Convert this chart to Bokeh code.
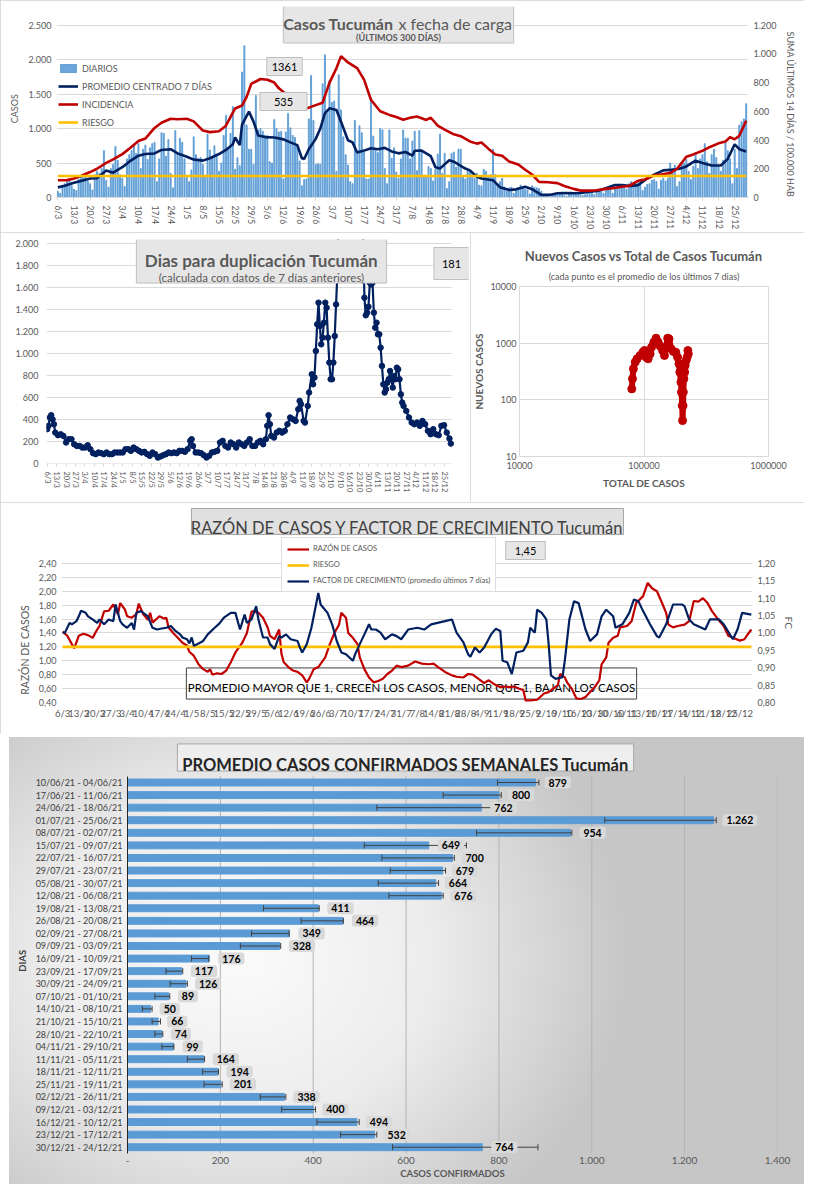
import math
from bokeh.plotting import figure
from bokeh.models import (Range1d, LinearAxis, Label, Legend, LegendItem, FixedTicker,
                          InlineStyleSheet, Title)
from bokeh.layouts import column, row
from bokeh.embed import file_html
from bokeh.resources import INLINE

# ---------------- DATA ----------------
date_lbl = ["6/3", "13/3", "20/3", "27/3", "3/4", "10/4", "17/4", "24/4", "1/5", "8/5", "15/5",
            "22/5", "29/5", "5/6", "12/6", "19/6", "26/6", "3/7", "10/7", "17/7", "24/7", "31/7",
            "7/8", "14/8", "21/8", "28/8", "4/9", "11/9", "18/9", "25/9", "2/10", "9/10", "16/10",
            "23/10", "30/10", "6/11", "13/11", "20/11", "27/11", "4/12", "11/12", "18/12", "25/12"]

# daily cases (6/3 .. 30/12)
daily = [90, 60, 180, 200, 230, 250, 170,
         120, 100, 270, 300, 320, 330, 240,
         200, 110, 330, 380, 350, 420, 680,
         250, 150, 420, 480, 740, 540, 330,
         280, 160, 560, 620, 680, 760, 640,
         780, 420, 700, 760, 550, 720, 780,
         800, 230, 560, 940, 930, 600, 840,
         350, 140, 970, 640, 860, 800, 560,
         300, 230, 400, 880, 620, 560, 580,
         480, 300, 920, 690, 580, 750, 610,
         380, 500, 900, 1190, 720, 930, 1320,
         410, 580, 460, 1820, 2200, 1050, 700,
         700, 480, 1480, 980, 1000, 960, 900,
         900, 520, 500, 1130, 1000, 950, 960,
         270, 950, 1220, 1010, 900, 870, 770,
         530, 170, 260, 270, 1140, 1770, 1120,
         480, 490, 480, 1650, 2070, 1220, 1700,
         1380, 1400, 380, 1780, 1270, 880, 620,
         470, 230, 200, 1120, 640, 1040, 940,
         660, 270, 270, 1450, 890, 700, 650,
         1000, 980, 420, 200, 980, 570, 720,
         370, 280, 560, 980, 860, 860, 560,
         820, 960, 390, 970, 690, 300, 310,
         450, 420, 240, 410, 630, 920, 350,
         640, 130, 230, 640, 660, 440, 700,
         700, 320, 270, 400, 380, 350, 280,
         350, 180, 170, 410, 380, 300, 330,
         700, 330, 200, 230, 280, 150, 90,
         140, 150, 60, 110, 130, 180, 150,
         120, 110, 50, 170, 150, 140, 130,
         90, 40, 30, 20, 50, 50, 40,
         70, 60, 80, 30, 20, 60, 80,
         60, 50, 70, 60, 30, 40, 80,
         80, 90, 40, 100, 120, 110, 60,
         140, 120, 150, 60, 130, 140, 170,
         150, 190, 120, 200, 230, 210, 200,
         210, 240, 100, 150, 190, 200, 250,
         260, 230, 120, 250, 280, 240, 280,
         500, 420, 470, 160, 230, 480, 500,
         550, 380, 260, 450, 650, 420, 560,
         620, 780, 520, 350, 620, 700, 580,
         460, 380, 540, 800, 680, 560, 200,
         700, 420, 1050, 1100, 1140, 1361]

avg7_day = [0, 3, 7, 10, 14, 17, 21, 24, 28, 31, 35, 38, 42, 45, 49, 52, 56, 59, 63, 66, 70, 73, 76,
            77, 79, 80, 83, 85, 87, 90, 94, 98, 101, 104, 106, 107, 109, 112, 114, 116, 118, 121,
            123, 126, 128, 130, 133, 136, 139, 142, 145, 148, 151, 154, 155, 158, 162, 164, 166,
            168, 170, 172, 175, 177, 179, 182, 184, 189, 192, 196, 199, 203, 206, 210, 214, 217,
            221, 224, 228, 231, 235, 238, 242, 245, 249, 252, 256, 259, 263, 266, 270, 273, 277,
            280, 284, 288, 291, 294, 296, 299]
avg7 = [147, 170, 213, 240, 275, 280, 393, 360, 440, 520, 606, 630, 639, 690, 700, 640, 592, 550,
        535, 570, 630, 690, 772, 870, 760, 1056, 1245, 1100, 900, 876, 870, 843, 800, 760, 570,
        559, 700, 850, 1000, 1222, 1293, 1270, 1100, 830, 800, 653, 680, 715, 700, 720, 668, 640,
        660, 606, 677, 680, 600, 440, 420, 480, 540, 520, 460, 420, 393, 300, 275, 251, 150, 109,
        118, 156, 120, 38, 40, 62, 65, 62, 70, 85, 100, 133, 180, 180, 166, 180, 275, 330, 393,
        400, 417, 450, 535, 500, 464, 464, 560, 772, 700, 668]

inc_day = [0, 4, 7, 10, 14, 17, 21, 24, 28, 31, 35, 38, 42, 45, 49, 52, 56, 59, 63, 66, 70, 73, 77,
           80, 82, 84, 88, 91, 94, 96, 98, 101, 105, 108, 112, 115, 118, 121, 123, 126, 130, 133,
           136, 140, 144, 147, 150, 153, 156, 160, 162, 165, 168, 172, 175, 179, 182, 184, 187,
           190, 193, 196, 200, 203, 206, 209, 213, 217, 220, 224, 227, 231, 234, 238, 241, 245,
           248, 252, 255, 259, 262, 266, 269, 273, 276, 280, 283, 287, 290, 292, 294, 296, 299]
inc = [120, 121, 132, 150, 177, 200, 241, 265, 302, 340, 393, 410, 484, 520, 548, 545, 548, 530,
       466, 455, 461, 500, 620, 640, 700, 791, 825, 820, 800, 760, 734, 700, 640, 620, 643, 660,
       800, 900, 984, 940, 900, 820, 680, 600, 575, 560, 541, 555, 564, 540, 555, 500, 473, 440,
       427, 390, 375, 383, 340, 300, 290, 250, 230, 193, 160, 109, 106, 100, 80, 60, 48, 48, 50,
       60, 64, 75, 80, 116, 125, 155, 160, 170, 200, 284, 300, 325, 350, 377, 390, 420, 405, 430,
       534]
riesgo_inc = 150
last_daily = "1361"
last_inc = "535"

# days to doubling
dup_day = [0, 1, 2, 3, 4, 5, 6, 8, 10, 12, 14, 16, 18, 20, 22, 24, 26, 28, 30, 32, 34, 36, 38, 40,
           42, 44, 46, 48, 50, 52, 54, 56, 58, 60, 62, 64, 66, 68, 70, 72, 74, 76, 78, 80, 82, 84,
           86, 88, 90, 92, 94, 96, 98, 100, 102, 104, 106, 107, 108, 110, 112, 114, 116, 118, 120,
           122, 124, 126, 128, 130, 132, 134, 136, 138, 140, 142, 144, 146, 148, 150, 152, 154,
           156, 158, 160, 162, 163, 164, 165, 166, 168, 170, 172, 174, 176, 178, 180, 182, 184,
           186, 187, 188, 190, 191, 193, 194, 196, 197, 198, 199, 200, 201, 202, 203, 204, 205,
           206, 207, 208, 209, 210, 211, 212, 213, 214, 215, 216, 218, 221, 225, 229, 232, 234,
           235, 236, 237, 238, 239, 240, 241, 242, 243, 244, 245, 246, 247, 248, 249, 250, 251,
           252, 253, 254, 255, 256, 257, 258, 259, 260, 261, 262, 263, 264, 266, 268, 270, 272,
           274, 276, 278, 280, 282, 284, 286, 288, 290, 292, 294, 296, 298, 299]
dup = [312, 342, 418, 439, 402, 357, 281, 257, 266, 251, 191, 221, 221, 175, 160, 160, 145, 145,
       166, 130, 94, 85, 100, 94, 85, 100, 85, 85, 100, 100, 100, 100, 130, 130, 115, 145, 130,
       115, 100, 106, 85, 70, 100, 85, 54, 64, 76, 85, 100, 94, 100, 94, 115, 115, 106, 130, 206,
       221, 160, 100, 100, 94, 76, 54, 70, 100, 106, 115, 191, 206, 160, 145, 191, 175, 145, 191,
       175, 160, 191, 221, 160, 160, 191, 206, 175, 221, 342, 439, 357, 251, 236, 281, 297, 281,
       297, 357, 418, 402, 387, 493, 569, 539, 387, 372, 523, 645, 811, 720, 781, 1023, 1265,
       1462, 1250, 1083, 1144, 1280, 1462, 1416, 1144, 917, 766, 766, 917, 1159, 1446, 1734, 2300,
       2900, 3600, 4100, 3700, 2800, 2100, 1507, 1347, 1371, 1425, 1643, 1628, 1643, 1371, 1235,
       1280, 1174, 1174, 1053, 887, 720, 645, 675, 735, 766, 841, 766, 690, 796, 766, 871, 856,
       766, 629, 554, 523, 478, 418, 372, 357, 372, 342, 387, 357, 297, 266, 312, 266, 257, 342,
       348, 281, 227, 181]
last_dup = "181"

# new cases vs total cases
sc_total = [79800, 80800, 82200, 85000, 88000, 93000, 98000, 101000, 104000, 108000, 112000,
            115000, 120000, 125000, 130000, 135000, 141000, 146000, 150000, 155000, 159000,
            165000, 172000, 180000, 186000, 191000, 194000, 198000, 200000, 203000, 204000,
            206000, 207000, 209000, 212000, 214000, 218000, 222000, 225000, 227000]
sc_new = [156, 235, 352, 462, 530, 606, 693, 742, 566, 530, 648, 850, 1040, 1225, 1040, 885, 742,
          606, 850, 1225, 1190, 795, 713, 693, 566, 432, 308, 205, 137, 79, 43, 79, 137, 235, 308,
          403, 494, 566, 742, 648]

# razón de casos / factor de crecimiento
raz_day = [0, 2, 4, 5, 7, 9, 11, 13, 15, 16, 18, 20, 22, 24, 25, 27, 28, 30, 32, 33, 35, 37, 38,
           39, 42, 44, 45, 46, 48, 50, 52, 54, 55, 57, 59, 61, 63, 64, 65, 67, 69, 71, 73, 75, 78,
           79, 80, 82, 83, 85, 87, 89, 90, 92, 94, 95, 96, 98, 100, 102, 104, 106, 107, 109, 111,
           114, 116, 118, 120, 121, 123, 124, 126, 128, 129, 131, 133, 135, 137, 139, 141, 143,
           145, 147, 150, 153, 156, 159, 161, 163, 166, 169, 171, 174, 176, 178, 181, 183, 185,
           187, 190, 192, 194, 196, 198, 200, 201, 203, 206, 209, 211, 213, 215, 216, 218, 219,
           221, 223, 225, 227, 229, 231, 233, 234, 236, 237, 239, 241, 242, 245, 247, 249, 252,
           254, 256, 258, 260, 262, 263, 265, 267, 270, 272, 274, 276, 278, 280, 282, 284, 287,
           289, 291, 294, 296, 297, 299]
raz = [1.42, 1.36, 1.24, 1.18, 1.36, 1.39, 1.37, 1.33, 1.45, 1.50, 1.71, 1.72, 1.81, 1.67, 1.83,
       1.74, 1.64, 1.62, 1.67, 1.82, 1.67, 1.59, 1.69, 1.55, 1.64, 1.61, 1.62, 1.48, 1.40, 1.33,
       1.26, 1.22, 1.13, 1.07, 0.95, 0.88, 0.84, 0.88, 0.80, 0.82, 0.81, 0.86, 0.98, 1.12, 1.26,
       1.33, 1.40, 1.71, 1.71, 1.69, 1.62, 1.48, 1.36, 1.31, 1.45, 1.10, 0.98, 0.91, 0.86, 0.84,
       0.79, 0.69, 0.74, 0.88, 0.91, 1.05, 1.24, 1.40, 1.52, 1.69, 1.62, 1.40, 1.33, 1.24, 1.05,
       0.88, 0.76, 0.69, 0.71, 0.74, 0.81, 0.86, 0.93, 0.91, 0.93, 0.99, 0.96, 0.95, 0.96, 0.91,
       0.84, 0.79, 0.77, 0.76, 0.81, 0.80, 0.73, 0.68, 0.72, 0.67, 0.62, 0.63, 0.62, 0.63, 0.60,
       0.58, 0.43, 0.43, 0.44, 0.53, 0.55, 0.60, 0.65, 0.81, 0.76, 0.69, 0.60, 0.46, 0.45, 0.48,
       0.55, 0.62, 0.72, 0.95, 1.05, 1.26, 1.33, 1.36, 1.48, 1.50, 1.57, 1.83, 1.93, 2.12, 2.04,
       2.00, 1.85, 1.69, 1.52, 1.48, 1.50, 1.52, 1.57, 1.86, 1.85, 1.90, 1.83, 1.71, 1.62, 1.50,
       1.36, 1.33, 1.29, 1.31, 1.36, 1.45]
fc_day = [0, 1, 3, 4, 6, 7, 8, 10, 11, 13, 15, 16, 18, 20, 22, 23, 25, 26, 28, 30, 31, 32, 34, 36,
          37, 39, 41, 43, 45, 47, 49, 51, 52, 54, 55, 56, 57, 59, 61, 63, 66, 68, 70, 73, 75, 77,
          79, 80, 82, 84, 85, 87, 89, 90, 92, 94, 95, 97, 99, 102, 103, 104, 106, 108, 109, 111,
          112, 115, 117, 119, 121, 123, 126, 127, 129, 131, 133, 134, 136, 138, 140, 143, 145,
          147, 150, 154, 157, 160, 166, 169, 171, 174, 176, 177, 179, 181, 183, 186, 188, 190,
          191, 193, 195, 197, 200, 202, 203, 205, 206, 208, 210, 211, 212, 214, 217, 218, 220,
          222, 224, 227, 229, 232, 234, 236, 239, 240, 243, 246, 248, 250, 252, 255, 258, 259,
          262, 265, 269, 270, 272, 274, 279, 281, 285, 287, 291, 293, 295, 299]
fc = [1.001, 1.001, 1.029, 1.025, 1.034, 1.048, 1.064, 1.058, 1.048, 1.039, 1.029, 1.039, 1.025,
      1.039, 1.034, 1.082, 1.034, 1.025, 1.015, 1.029, 1.010, 1.058, 1.063, 1.053, 1.048, 1.015,
      1.010, 1.013, 1.015, 1.020, 1.006, 0.996, 0.987, 0.982, 0.970, 0.987, 0.963, 0.970, 0.977,
      0.996, 1.015, 1.027, 1.044, 1.058, 1.058, 1.010, 1.053, 1.029, 1.039, 1.077, 1.039, 0.987,
      0.987, 0.968, 0.954, 0.991, 0.987, 0.996, 0.982, 0.977, 0.958, 0.944, 0.968, 1.015, 1.048,
      1.115, 1.082, 1.058, 1.025, 0.977, 0.944, 0.939, 0.920, 0.939, 0.968, 0.996, 1.025, 1.010,
      1.010, 1.001, 0.982, 0.996, 0.991, 0.982, 1.010, 1.015, 1.010, 1.025, 1.034, 1.039, 1.001,
      0.973, 0.939, 0.932, 0.958, 0.944, 0.958, 0.996, 1.012, 1.006, 0.920, 0.916, 0.882, 0.944,
      0.949, 0.973, 1.015, 1.001, 1.067, 1.058, 1.039, 0.968, 0.878, 0.868, 0.873, 0.920, 1.039,
      1.091, 1.086, 1.010, 0.977, 0.996, 1.048, 1.067, 1.048, 1.015, 1.025, 1.058, 1.096, 1.091,
      1.063, 1.025, 0.991, 0.987, 1.025, 1.082, 1.082, 1.077, 1.039, 1.025, 1.010, 1.039, 1.039,
      1.025, 0.982, 1.010, 1.058, 1.053]
riesgo_raz = 1.20
last_raz = "1,45"

# weekly averages
week_lbl = ["10/06/21 - 04/06/21", "17/06/21 - 11/06/21", "24/06/21 - 18/06/21",
            "01/07/21 - 25/06/21", "08/07/21 - 02/07/21", "15/07/21 - 09/07/21",
            "22/07/21 - 16/07/21", "29/07/21 - 23/07/21", "05/08/21 - 30/07/21",
            "12/08/21 - 06/08/21", "19/08/21 - 13/08/21", "26/08/21 - 20/08/21",
            "02/09/21 - 27/08/21", "09/09/21 - 03/09/21", "16/09/21 - 10/09/21",
            "23/09/21 - 17/09/21", "30/09/21 - 24/09/21", "07/10/21 - 01/10/21",
            "14/10/21 - 08/10/21", "21/10/21 - 15/10/21", "28/10/21 - 22/10/21",
            "04/11/21 - 29/10/21", "11/11/21 - 05/11/21", "18/11/21 - 12/11/21",
            "25/11/21 - 19/11/21", "02/12/21 - 26/11/21", "09/12/21 - 03/12/21",
            "16/12/21 - 10/12/21", "23/12/21 - 17/12/21", "30/12/21 - 24/12/21"]
week_avg = [879, 800, 762, 1262, 954, 649, 700, 679, 664, 676, 411, 464, 349, 328, 176, 117, 126,
            89, 50, 66, 74, 99, 164, 194, 201, 338, 400, 494, 532, 764]
week_lo = [797, 680, 537, 1028, 752, 510, 548, 566, 540, 563, 293, 374, 267, 243, 138, 83, 92, 59,
           32, 53, 59, 74, 129, 162, 165, 286, 332, 408, 459, 571]
week_hi = [886, 805, 832, 1268, 957, 730, 704, 685, 670, 680, 413, 465, 348, 330, 175, 119, 129, 91,
           53, 71, 76, 100, 166, 196, 204, 341, 405, 499, 537, 884]

# tick labels
cases_ticks = [0, 500, 1000, 1500, 2000, 2500]
cases_lbl = ["0", "500", "1.000", "1.500", "2.000", "2.500"]
inc_ticks = [0, 200, 400, 600, 800, 1000, 1200]
inc_lbl = ["0", "200", "400", "600", "800", "1.000", "1.200"]
dup_ticks = [0, 200, 400, 600, 800, 1000, 1200, 1400, 1600, 1800, 2000]
dup_lbl = ["0", "200", "400", "600", "800", "1.000", "1.200", "1.400", "1.600", "1.800", "2.000"]
sx_ticks = [10000, 100000, 1000000]
sx_lbl = ["10000", "100000", "1000000"]
sy_ticks = [10, 100, 1000, 10000]
sy_lbl = ["10", "100", "1000", "10000"]
rz_ticks = [0.4, 0.6, 0.8, 1.0, 1.2, 1.4, 1.6, 1.8, 2.0, 2.2, 2.4]
rz_lbl = ["0,40", "0,60", "0,80", "1,00", "1,20", "1,40", "1,60", "1,80", "2,00", "2,20", "2,40"]
fc_ticks = [0.8, 0.85, 0.9, 0.95, 1.0, 1.05, 1.1, 1.15, 1.2]
fc_lbl = ["0,80", "0,85", "0,90", "0,95", "1,00", "1,05", "1,10", "1,15", "1,20"]
wk_ticks = [0, 200, 400, 600, 800, 1000, 1200, 1400]
wk_lbl = ["-", "200", "400", "600", "800", "1.000", "1.200", "1.400"]

# ---------------- STYLE ----------------
FONT = "Lato"
GRAY = "#595959"
NAVY = "#002060"
RED = "#C00000"
GOLD = "#FFC000"
BLUE = "#5B9BD5"
GRID = "#d9d9d9"
EM = "\u2003"
panel_css = InlineStyleSheet(css=":host { outline: 1px solid #d0d0d0; outline-offset: -1px; }")


def mkfig(w, h, l, r, t, b, css=True, **kw):
    p = figure(width=w, height=h, min_border_left=l, min_border_right=r, min_border_top=t,
               min_border_bottom=b, toolbar_location=None, output_backend="svg",
               frame_align=False, stylesheets=[panel_css] if css else [], **kw)
    p.outline_line_color = None
    return p


def style_axis(ax, size="9px", color=GRAY):
    ax.major_label_text_font = FONT
    ax.major_label_text_font_size = size
    ax.major_label_text_color = color
    ax.axis_label_text_font = FONT
    ax.axis_label_text_font_style = "normal"
    ax.axis_label_text_color = color
    ax.axis_label_text_font_size = size
    ax.axis_line_color = None
    ax.major_tick_line_color = None
    ax.minor_tick_line_color = None
    ax.major_tick_out = 0
    ax.major_tick_in = 0
    ax.minor_tick_out = 0
    ax.minor_tick_in = 0


def txt(p, x, y, s, size, bold=False, color=GRAY, align="center", base="alphabetic",
        level="annotation"):
    p.add_layout(Label(x=x, y=y, x_units="screen", y_units="screen", text=s, text_font=FONT,
                       text_font_size=f"{size}px", text_font_style="bold" if bold else "normal",
                       text_color=color, text_align=align, text_baseline=base, level=level))


def box(p, cx, cy, hw, hh, fill="#e7e6e6", line="#bfbfbf", level="annotation"):
    p.add_layout(Label(x=cx, y=cy, x_units="screen", y_units="screen", text=" ",
                       text_font_size="1px", text_align="center", text_baseline="middle",
                       padding=dict(left=hw, right=hw, top=hh, bottom=hh),
                       background_fill_color=fill, border_line_color=line, level=level))


def tbox(p, cx, cy, s, size, padx, pady, fill="#e7e6e6", line="#bfbfbf"):
    p.add_layout(Label(x=cx, y=cy, x_units="screen", y_units="screen", text=s, text_font=FONT,
                       text_font_size=f"{size}px", text_color="#000000", text_align="center",
                       text_baseline="middle",
                       padding=dict(left=padx, right=padx, top=pady, bottom=pady),
                       background_fill_color=fill, border_line_color=line))


date_tick = [7 * i for i in range(len(date_lbl))]
days = list(range(len(daily)))

# ---------------- P1: daily cases ----------------
# frame extended above the 2.500 line so that the title box fits inside it
p1 = mkfig(804, 232, 56, 56, 6, 31, x_range=Range1d(-0.6, 300), y_range=Range1d(0, 2770))
p1.extra_y_ranges = {"inc": Range1d(0, 1329.5)}
r_bar = p1.vbar(x=days, top=daily, width=0.42, color=BLUE, alpha=0.9)
r_avg = p1.line(avg7_day, avg7, color=NAVY, line_width=2.6)
r_inc = p1.line(inc_day, inc, color=RED, line_width=2.6, y_range_name="inc")
r_rie = p1.line([days[0], days[-1]], [riesgo_inc, riesgo_inc], color=GOLD, line_width=2.6,
                y_range_name="inc")
p1.xgrid.grid_line_color = None
p1.ygrid.grid_line_color = GRID
ya = p1.yaxis[0]
style_axis(ya)
ya.ticker = FixedTicker(ticks=cases_ticks)
ya.major_label_overrides = dict(zip(cases_ticks, cases_lbl))
ya.axis_label = "CASOS" + EM * 2
xa = p1.xaxis[0]
style_axis(xa, "8.5px")
xa.ticker = FixedTicker(ticks=date_tick)
xa.major_label_overrides = dict(zip(date_tick, date_lbl))
xa.major_label_orientation = "vertical"
xa.axis_line_color = GRID
xa.major_tick_line_color = GRID
xa.major_tick_out = 3
ra = LinearAxis(y_range_name="inc", ticker=FixedTicker(ticks=inc_ticks),
                axis_label=EM * 4 + "SUMA  ÚLTIMOS 14 DÍAS / 100.000 HAB")
style_axis(ra)
ra.major_label_overrides = dict(zip(inc_ticks, inc_lbl))
p1.add_layout(ra, "right")
leg1 = Legend(items=[LegendItem(label="DIARIOS", renderers=[r_bar]),
                     LegendItem(label="PROMEDIO CENTRADO 7 DÍAS", renderers=[r_avg]),
                     LegendItem(label="INCIDENCIA", renderers=[r_inc]),
                     LegendItem(label="RIESGO", renderers=[r_rie])],
              location=(2, 69), padding=0, margin=0, spacing=6, label_height=12,
              glyph_height=10, glyph_width=20, label_standoff=4, border_line_color=None,
              background_fill_alpha=0, label_text_font=FONT, label_text_font_size="9px",
              label_text_color=GRAY)
p1.add_layout(leg1)
box(p1, 342, 174, 115, 19)
txt(p1, 337, 174, "Casos Tucumán", 16, bold=True, align="right")
txt(p1, 342, 174, "x fecha de carga", 16, align="left")
txt(p1, 342, 160, "(ÚLTIMOS 300 DÍAS)", 9, bold=True)
tbox(p1, 228, 131, last_daily, 11, 5, 5)
tbox(p1, 227, 96, last_inc, 11, 14, 5)

# ---------------- P2: doubling days ----------------
# frame extended to the right so that the "181" box fits inside it
p2 = mkfig(470, 270, 46, 2, 7, 39, x_range=Range1d(-0.5, 312.1), y_range=Range1d(0, 2036))
p2.xgrid.grid_line_color = None
p2.ygrid.grid_line_color = None
p2.segment(x0=days[0] - 0.5, x1=days[-1] + 0.5, y0=dup_ticks, y1=dup_ticks, color=GRID,
           line_width=1)
p2.line(dup_day, dup, color=NAVY, line_width=2.2)
p2.scatter(dup_day, dup, size=5.5, color=NAVY)
ya = p2.yaxis[0]
style_axis(ya)
ya.ticker = FixedTicker(ticks=dup_ticks)
ya.major_label_overrides = dict(zip(dup_ticks, dup_lbl))
ya.major_label_standoff = 8
xa = p2.xaxis[0]
style_axis(xa, "7.5px")
xa.ticker = FixedTicker(ticks=date_tick)
xa.major_label_overrides = dict(zip(date_tick, date_lbl))
xa.major_label_orientation = "vertical"
xa.bounds = (days[0] - 0.5, days[-1] + 0.5)
xa.major_tick_line_color = GRID
xa.major_tick_out = 3
box(p2, 215, 203, 125, 22)
txt(p2, 215, 203, "Dias para duplicación Tucumán", 17, bold=True)
txt(p2, 215, 186, "(calculada con datos de 7 días anteriores)", 11.5)
tbox(p2, 405, 200, last_dup, 11, 8, 12)

# ---------------- P3: new vs total ----------------
p3 = mkfig(334, 270, 43, 36, 54, 46, x_axis_type="log", y_axis_type="log",
           x_range=Range1d(1e4, 1e6), y_range=Range1d(10, 1e4))
p3.line(sc_total, sc_new, color=RED, line_width=6)
p3.scatter(sc_total, sc_new, size=8, color=RED)
p3.outline_line_color = GRID
p3.xgrid.grid_line_color = GRID
p3.ygrid.grid_line_color = GRID
xa = p3.xaxis[0]
style_axis(xa)
xa.ticker = FixedTicker(ticks=sx_ticks)
xa.major_label_overrides = dict(zip(sx_ticks, sx_lbl))
xa.axis_label = "TOTAL DE CASOS"
xa.axis_label_text_font_style = "bold"
xa.axis_label_text_font_size = "10px"
ya = p3.yaxis[0]
style_axis(ya)
ya.ticker = FixedTicker(ticks=sy_ticks)
ya.major_label_overrides = dict(zip(sy_ticks, sy_lbl))
ya.axis_label = "NUEVOS CASOS"
ya.axis_label_text_font_style = "bold"
ya.axis_label_text_font_size = "10px"
ya.axis_label_standoff = 2
ya.major_label_standoff = 3
p3.add_layout(Title(text="(cada punto es el promedio de los últimos 7 dias)", align="center",
                    text_font=FONT, text_font_size="9px", text_font_style="normal",
                    text_color=GRAY, standoff=9), "above")
p3.add_layout(Title(text="Nuevos Casos vs Total de Casos Tucumán", align="center",
                    text_font=FONT, text_font_size="13px", text_font_style="bold",
                    text_color=GRAY, standoff=1), "above")

# ---------------- P4: ratio & growth factor ----------------
p4 = mkfig(804, 232, 61, 52, 3, 32, x_range=Range1d(-0.5, 299.5), y_range=Range1d(0.4, 3.234))
p4.extra_y_ranges = {"fc": Range1d(0.8, 1.3669)}
p4.xgrid.grid_line_color = None
p4.ygrid.grid_line_color = GRID
# title box drawn in data space of the (extended) frame, above the 2,40 line
p4.quad(left=55.9, right=243.5, bottom=2.817, top=3.191, fill_color="#e0e0e0",
        line_color="#a6a6a6", line_width=1)
box(p4, 350, 19, 225, 15, fill=None, line="#404040", level="underlay")
txt(p4, 350, 15, "PROMEDIO MAYOR QUE 1, CRECEN LOS CASOS, MENOR QUE 1, BAJAN LOS CASOS", 11.5,
    color="#000000", level="underlay")
r_raz = p4.line(raz_day, raz, color=RED, line_width=2.2)
r_rr = p4.line([days[0], days[-1]], [riesgo_raz, riesgo_raz], color=GOLD, line_width=2.6)
r_fc = p4.line(fc_day, fc, color=NAVY, line_width=2.2, y_range_name="fc")
ya = p4.yaxis[0]
style_axis(ya)
ya.ticker = FixedTicker(ticks=rz_ticks)
ya.major_label_overrides = dict(zip(rz_ticks, rz_lbl))
ya.axis_label = "RAZÓN  DE  CASOS" + EM * 11
ya.axis_label_text_font_size = "10.5px"
xa = p4.xaxis[0]
style_axis(xa, "9.5px")
xa.ticker = FixedTicker(ticks=date_tick)
xa.major_label_overrides = dict(zip(date_tick, date_lbl))
ra = LinearAxis(y_range_name="fc", ticker=FixedTicker(ticks=fc_ticks), axis_label=EM * 5 + "FC")
style_axis(ra)
ra.axis_label_text_font_size = "10px"
ra.major_label_overrides = dict(zip(fc_ticks, fc_lbl))
p4.add_layout(ra, "right")
txt(p4, 346, 175, "RAZÓN DE CASOS Y FACTOR DE CRECIMIENTO Tucumán", 16.5, color="#404040")
leg4 = Legend(items=[LegendItem(label="RAZÓN DE CASOS", renderers=[r_raz]),
                     LegendItem(label="RIESGO", renderers=[r_rr]),
                     LegendItem(label="FACTOR DE CRECIMIENTO (promedio últimos 7 días)",
                                renderers=[r_fc])],
              location=(220, 110), padding=5, margin=0, spacing=5, label_height=11,
              glyph_height=8, glyph_width=22, label_standoff=4, border_line_color="#bfbfbf",
              background_fill_color="white", label_text_font=FONT, label_text_font_size="7.5px",
              label_text_color=GRAY)
p4.add_layout(leg4)
tbox(p4, 464, 152, last_raz, 11, 9, 5)

# ---------------- P5: weekly averages ----------------
grad = InlineStyleSheet(css=":host { background: radial-gradient(ellipse 48% 72% at 30% 50%, "
                            "#fbfbfb 0%, #ececec 50%, #c6c6c6 100%); "
                            "box-shadow: inset 9px 3px 0 0 #ffffff; }")
nw = len(week_lbl)
ypos = [nw - 1 - i for i in range(nw)]
p5 = figure(width=804, height=450, min_border_left=127, min_border_right=27, min_border_top=5,
            min_border_bottom=31, toolbar_location=None, output_backend="svg",
            frame_align=False, x_range=Range1d(0, 1400), y_range=Range1d(-0.5, 32.42),
            background_fill_color=None, border_fill_color=None, stylesheets=[grad])
p5.outline_line_color = None
p5.ygrid.grid_line_color = None
p5.xgrid.grid_line_color = None
p5.segment(x0=wk_ticks[1:], x1=wk_ticks[1:], y0=-0.5, y1=nw - 0.5, color="#b3b3b3",
           line_width=1)
p5.hbar(y=ypos, right=week_avg, height=0.55, color=BLUE)
p5.segment(x0=week_lo, x1=week_hi, y0=ypos, y1=ypos, color="#404040", line_width=1)
p5.scatter(week_lo, ypos, marker="dash", angle=math.pi / 2, size=6, color="#404040")
p5.scatter(week_hi, ypos, marker="dash", angle=math.pi / 2, size=6, color="#404040")
for v, yy in zip(week_avg, ypos):
    p5.add_layout(Label(x=v, y=yy, x_offset=9, text=f"{v:,}".replace(",", "."), text_font=FONT,
                        text_font_size="10.5px", text_font_style="bold", text_color="#000000",
                        text_align="left", text_baseline="middle",
                        padding=dict(left=4, right=4, top=2, bottom=2), border_radius=3,
                        background_fill_color="#d9d9d9"))
ya = p5.yaxis[0]
style_axis(ya, "9px", "#404040")
ya.ticker = FixedTicker(ticks=ypos)
ya.major_label_overrides = dict(zip(ypos, week_lbl))
ya.axis_line_color = "#262626"
ya.bounds = (-0.5, nw - 0.5)
ya.axis_label = "DIAS" + EM * 4
ya.axis_label_text_font_style = "bold"
ya.axis_label_text_font_size = "9.5px"
xa = p5.xaxis[0]
style_axis(xa, "10px", GRAY)
xa.ticker = FixedTicker(ticks=wk_ticks)
xa.major_label_overrides = dict(zip(wk_ticks, wk_lbl))
xa.major_label_standoff = 3
xa.axis_label = "CASOS CONFIRMADOS"
xa.axis_label_text_font_style = "bold"
xa.axis_label_text_font_size = "9.5px"
xa.axis_label_standoff = 1
box(p5, 278, 396, 228, 13, fill="#eeeeee", line="#a6a6a6")
txt(p5, 278, 389, "PROMEDIO CASOS CONFIRMADOS SEMANALES Tucumán", 16.5, bold=True,
    color="#262626")

layout = column(p1, row(p2, p3), p4, p5)
open("out.html", "w").write(file_html(layout, INLINE))
